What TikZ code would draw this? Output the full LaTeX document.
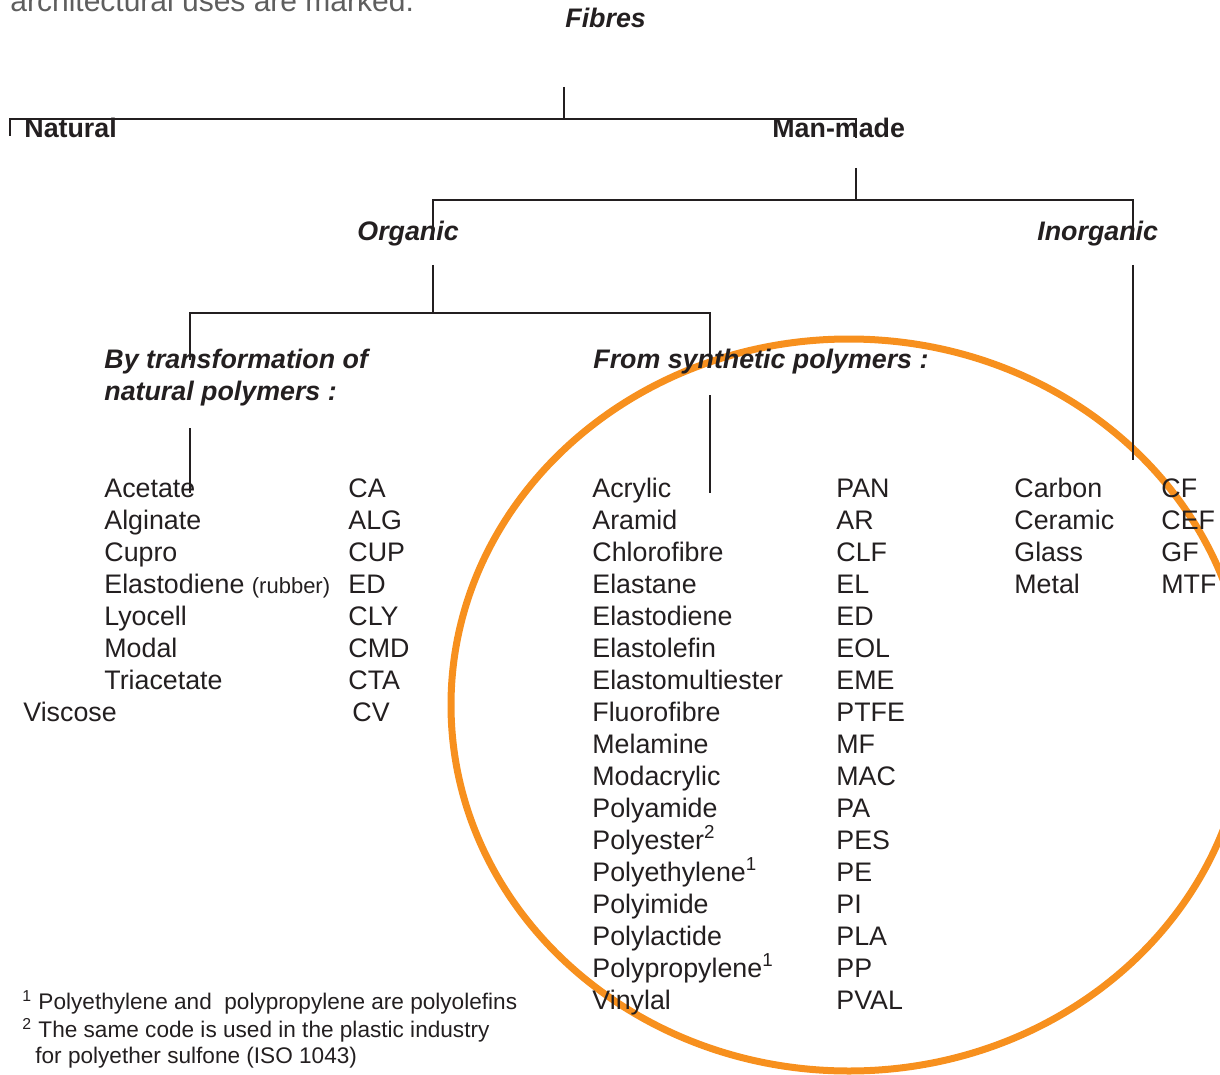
\documentclass[tikz,border=0pt]{standalone}
\usepackage{fontspec}
\setmainfont{Liberation Sans}
\usepackage{tikz}
\usetikzlibrary{positioning,calc}
\definecolor{ink}{HTML}{231F20}
\definecolor{ringOrange}{HTML}{F7901E}
\definecolor{noteGray}{HTML}{5E5E5E}
\tikzset{
    lbl/.style={
        anchor=base west,
        inner sep=0pt,
        text=ink,
        font=\fontsize{13.4}{16}\selectfont
    },
    % Heading variants
    head/.style={lbl, font=\fontsize{13.4}{16}\selectfont\bfseries},
    subhead/.style={lbl, font=\fontsize{13.4}{16}\selectfont\bfseries\itshape},
    note/.style={lbl, font=\fontsize{11.3}{13}\selectfont},
    % Lines
    link/.style={draw=ink, line width=0.75pt},
    ring/.style={draw=ringOrange, line width=3.5pt}
}
\begin{document}
\begin{tikzpicture}[x=0.5pt, y=-0.5pt]
\useasboundingbox (0,0) rectangle (1220,1075);
\clip (0,0) rectangle (1220,1075);

% Highlight ring
\draw[ring] (849,705) ellipse [x radius=398, y radius=366];

% Cut-off caption
\node[lbl, font=\fontsize{15}{18}\selectfont, text=noteGray] (cap) at (10,12) {architectural uses are marked.};

% Headings
\node[subhead] (fib) at (565,28) {Fibres};
\node[head] (nat) at (24,138) {Natural};
\node[head] (man) at (772,138) {Man-made};
\node[subhead] (org) at (357,241) {Organic};
\node[subhead] (ino) at (1037,241) {Inorganic};
\node[subhead, align=left, anchor=north west] (trf) at (104,349) {By transformation of\\natural polymers :};
\node[subhead] (syn) at (593,368) {From synthetic polymers :};

% Tree junctions
\coordinate (c0) at (564,87);
\coordinate (j0) at (564,119);
\coordinate (natT) at (10,136);
\coordinate (manT) at (856,138);
\coordinate (c1) at (856,168);
\coordinate (j1) at (856,200);
\coordinate (orgT) at (433,240);
\coordinate (inoT) at (1133,240);
\coordinate (c2) at (433,265);
\coordinate (j2) at (433,313);
\coordinate (trfT) at (190,360);
\coordinate (synT) at (710,366);
\coordinate (c3) at (190,428);
\coordinate (accT) at (190,493);
\coordinate (c4) at (710,395);
\coordinate (acrT) at (710,493);
\coordinate (c5) at (1133,265);
\coordinate (carT) at (1133,460);

\draw[link] (c0) -- (j0);
\draw[link] (natT) -- (natT |- j0) -| (manT);
\draw[link] (c1) -- (j1);
\draw[link] (orgT) |- (j1) -| (inoT);
\draw[link] (c2) -- (j2);
\draw[link] (trfT) |- (j2) -| (synT);
\draw[link] (c3) -- (accT);
\draw[link] (c4) -- (acrT);
\draw[link] (c5) -- (carT);

% Natural polymer fibres
\foreach \i/\w/\c in {0/Acetate/CA, 1/Alginate/ALG, 2/Cupro/CUP,
    3/{Elastodiene {\fontsize{11}{13}\selectfont(rubber)}}/ED, 4/Lyocell/CLY,
    5/Modal/CMD, 6/Triacetate/CTA} {
    \node[lbl] (nat\i) at (104,{497+32*\i}) {\w};
    \node[lbl] (natc\i) at (348,{497+32*\i}) {\c};
}
\node[lbl] (nat7) at (23,721) {Viscose};
\node[lbl] (natc7) at (352,721) {CV};

% Synthetic polymer fibres
\foreach \i/\w/\c in {0/Acrylic/PAN, 1/Aramid/AR, 2/Chlorofibre/CLF, 3/Elastane/EL,
    4/Elastodiene/ED, 5/Elastolefin/EOL, 6/Elastomultiester/EME, 7/Fluorofibre/PTFE,
    8/Melamine/MF, 9/Modacrylic/MAC, 10/Polyamide/PA, 11/{Polyester\textsuperscript{2}}/PES,
    12/{Polyethylene\textsuperscript{1}}/PE, 13/Polyimide/PI, 14/Polylactide/PLA,
    15/{Polypropylene\textsuperscript{1}}/PP, 16/Vinylal/PVAL} {
    \node[lbl] (syn\i) at (592,{497+32*\i}) {\w};
    \node[lbl] (sync\i) at (836,{497+32*\i}) {\c};
}

% Inorganic fibres
\foreach \i/\w/\c in {0/Carbon/CF, 1/Ceramic/CEF, 2/Glass/GF, 3/Metal/MTF} {
    \node[lbl] (inor\i) at (1014,{497+32*\i}) {\w};
    \node[lbl] (inorc\i) at (1161,{497+32*\i}) {\c};
}

% Footnotes
\node[note] (fn1) at (22,1009) {\textsuperscript{1}\ Polyethylene and\ \ polypropylene are polyolefins};
\node[note] (fn2) at (22,1037) {\textsuperscript{2} The same code is used in the plastic industry};
\node[note] (fn3) at (35,1063) {for polyether sulfone (ISO 1043)};
\end{tikzpicture}
\end{document}
